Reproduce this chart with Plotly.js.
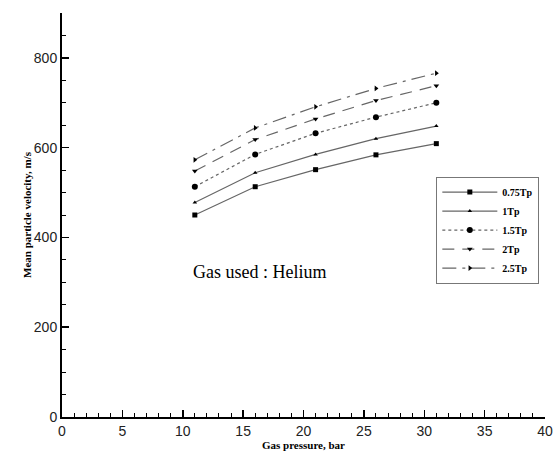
<!DOCTYPE html>
<html><head><meta charset="utf-8">
<script src="https://cdn.plot.ly/plotly-3.0.1.min.js"></script>
<style>html,body{margin:0;padding:0;background:#fff}#chart{width:555px;height:453px}</style>
</head><body><div id="chart"></div>
<script>
const pressure = [11, 16, 21, 26, 31];
const seriesNames = ["0.75Tp", "1Tp", "1.5Tp", "2Tp", "2.5Tp"];
const v075 = [450, 513, 551, 584, 609];
const v1 = [478, 544, 585, 620, 648];
const v15 = [513, 585, 632, 668, 700];
const v2 = [548, 618, 664, 705, 738];
const v25 = [573, 644, 691, 732, 766];
const xTicks = [0, 5, 10, 15, 20, 25, 30, 35, 40];
const yTicks = [0, 200, 400, 600, 800];

const SERIF = "Times New Roman, Liberation Serif, serif";
const SANS = "Liberation Sans";
const styles = [
  {dash: "solid", symbol: "square", size: 5},
  {dash: "solid", symbol: "triangle-up", size: 4},
  {dash: "dot", symbol: "circle", size: 6},
  {dash: "12px,8px", symbol: "triangle-down", size: 5},
  {dash: "14px,6px,3px,6px", symbol: "triangle-right", size: 5}
];
const vals = [v075, v1, v15, v2, v25];
const traces = vals.map((v, i) => ({
  x: pressure, y: v, name: seriesNames[i], type: "scatter", mode: "lines+markers",
  line: {color: "#666", width: 1.2, dash: styles[i].dash},
  marker: {color: "#000", symbol: styles[i].symbol, size: styles[i].size}
}));

const layout = {
  width: 555, height: 453,
  margin: {l: 62, r: 10, t: 13, b: 36},
  paper_bgcolor: "#fff", plot_bgcolor: "#fff",
  showlegend: true,
  legend: {x: 0.775, y: 0.595, xanchor: "left", yanchor: "top",
    bordercolor: "#777", borderwidth: 1, bgcolor: "#fff",
    font: {family: SERIF, size: 10, color: "#000", weight: "bold"},
    tracegroupgap: 0, itemwidth: 55},
  xaxis: {range: [0, 40], tickvals: xTicks, ticktext: xTicks.map(String),
    showgrid: false, zeroline: false, showline: true, linecolor: "#000", linewidth: 2,
    ticks: "inside", ticklen: 7, tickwidth: 1.5, tickcolor: "#000",
    minor: {dtick: 1, ticks: "inside", ticklen: 4, tickcolor: "#000", tickwidth: 1},
    tickfont: {family: SANS, size: 14, color: "#222"},
    title: {text: "<b>Gas pressure, bar</b>", standoff: 1,
      font: {family: SERIF, size: 11, color: "#000"}}},
  yaxis: {range: [0, 900], tickvals: yTicks, ticktext: yTicks.map(String),
    showgrid: false, zeroline: false, showline: true, linecolor: "#000", linewidth: 2,
    ticks: "inside", ticklen: 7, tickwidth: 1.5, tickcolor: "#000",
    minor: {dtick: 50, ticks: "inside", ticklen: 4, tickcolor: "#000", tickwidth: 1},
    tickfont: {family: SANS, size: 14, color: "#222"},
    title: {text: "<b>Mean particle velocity, m/s</b>", standoff: 0,
      font: {family: SERIF, size: 11, color: "#000"}}},
  annotations: [{text: "Gas used : Helium", xref: "x", yref: "y", x: 10.7, y: 322,
    xanchor: "left", yanchor: "middle", showarrow: false,
    font: {family: SERIF, size: 18, color: "#000"}}]
};
Plotly.newPlot("chart", traces, layout, {displayModeBar: false, staticPlot: true});
</script></body></html>
